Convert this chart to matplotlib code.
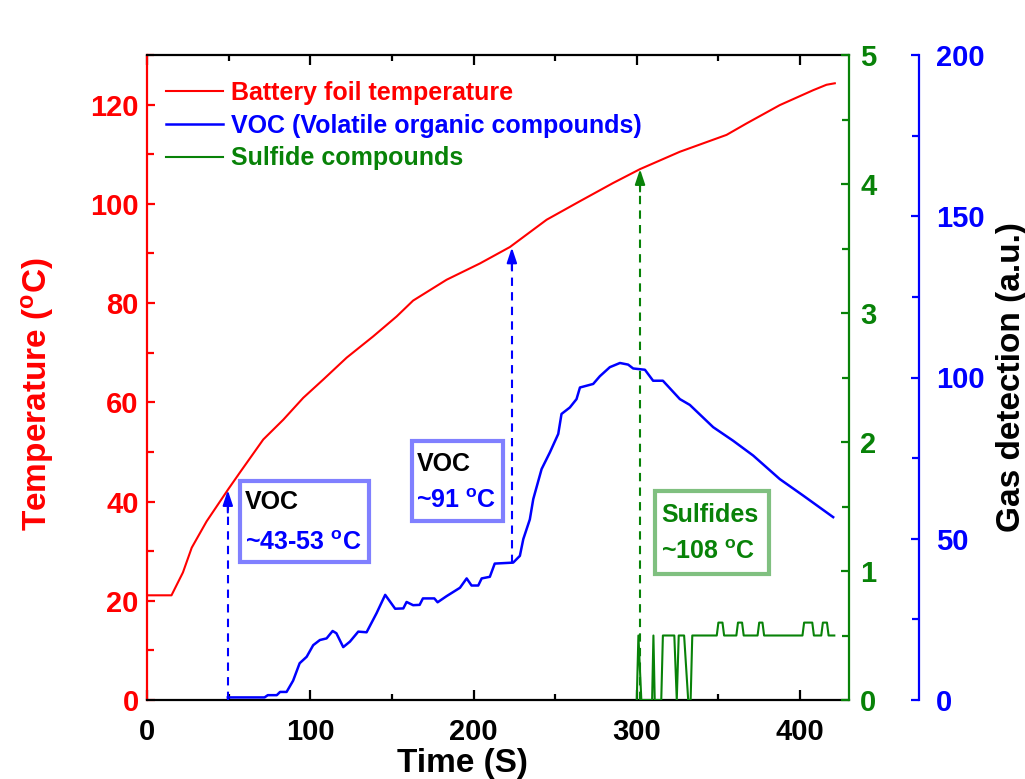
import matplotlib
matplotlib.use("Agg")
import matplotlib.pyplot as plt
from matplotlib.patches import Rectangle
from matplotlib.ticker import MultipleLocator

plt.rcParams['font.family'] = ['Liberation Sans', 'DejaVu Sans']
plt.rcParams['font.weight'] = 'bold'
plt.rcParams['mathtext.fontset'] = 'custom'
plt.rcParams['mathtext.rm'] = 'Liberation Sans:bold'
plt.rcParams['mathtext.bf'] = 'Liberation Sans:bold'
plt.rcParams['mathtext.it'] = 'Liberation Sans:bold'
plt.rcParams['mathtext.default'] = 'rm'

# ---- data ----
temp_t = [0, 15, 22, 27.4, 36.5, 49.8, 57, 71.2, 83.5, 95.7, 108, 122.3, 138.6,
          152.9, 163, 183.5, 204, 222.3, 244.8, 265, 285.5, 302, 326.4, 355,
          367.2, 387.6, 408, 416.2, 421.3]
temp_v = [21.1, 21.1, 25.7, 30.7, 36, 42.5, 45.9, 52.5, 56.5, 60.9, 64.6, 69,
          73.3, 77.3, 80.5, 84.7, 88, 91.3, 96.8, 100.5, 104.2, 107, 110.5,
          113.9, 116.2, 119.9, 122.9, 124, 124.3]

voc_t = [49.5, 72, 74, 79.5, 81.5, 85.5, 89.5, 93.5, 97.8, 101.8, 105.9, 110,
         113.7, 116, 120.2, 124.3, 129.4, 134.5, 140.6, 145.9, 152, 157, 159,
         163, 167, 169, 176, 178, 183.5, 191.7, 195.8, 198.8, 202.9, 205, 210,
         213, 224.3, 228.4, 230.5, 234.5, 236.6, 241.7, 246.8, 251.9, 253.9,
         259, 263.1, 265.2, 273.3, 277.4, 283.5, 289.7, 294.7, 297.8, 305, 310,
         316, 326.4, 332.5, 346.8, 359, 371.3, 387.6, 401.9, 420.3]
voc_v = [0.8, 0.8, 1.5, 1.5, 2.5, 2.5, 6, 11.4, 13.4, 17, 18.6, 19.1, 21.4,
         20.7, 16.4, 18.1, 21.2, 21, 26.9, 32.6, 28.3, 28.4, 30.4, 29.4, 29.5,
         31.5, 31.5, 30.3, 32.2, 34.8, 37.7, 35.5, 35.5, 37.7, 38.2, 42.3, 42.6,
         44.7, 49.9, 56, 62.3, 71.6, 76.8, 82.5, 88.7, 90.7, 93.3, 96.9, 98,
         100.4, 103.2, 104.5, 104, 102.8, 102.4, 99, 99, 93.3, 91.5, 84.6, 80.4,
         75.8, 68.5, 63.4, 56.7]

sulf_t = [300, 301, 302.8, 309.4, 310.2, 311, 315, 316, 323, 324.5, 325.7,
          329, 331.5, 333, 334, 349, 350, 352.5, 353.5, 361, 362, 364.5, 365.5,
          374, 375, 377, 378, 401.5, 402.5, 407.5, 408.5, 413, 414, 416.5,
          417.5, 421]
sulf_v = [0, 0.5, 0, 0, 0.5, 0, 0, 0.5, 0.5, 0, 0.5, 0.5, 0, 0, 0.5, 0.5, 0.6,
          0.6, 0.5, 0.5, 0.6, 0.6, 0.5, 0.5, 0.6, 0.6, 0.5, 0.5, 0.6, 0.6, 0.5,
          0.5, 0.6, 0.6, 0.5, 0.5]

# onset markers: (time, base temperature, tip temperature)
voc1_t, voc1_base, voc1_tip = 49.5, 0, 42.3
voc2_t, voc2_base, voc2_tip = 223.5, 27.6, 91.2
sulf_on_t, sulf_on_base, sulf_on_tip = 302, 0, 107

RED = '#FF0000'
BLUE = '#0000FF'
GREEN = '#088208'

fig = plt.figure(figsize=(10.25, 7.79), dpi=100)
ax = fig.add_axes([147 / 1025, 79 / 779, 702 / 1025, 645 / 779])
ax_s = ax.twinx()
ax_g = ax.twinx()
ax_g.spines['right'].set_position(('axes', 1.10))

l1, = ax.plot(temp_t, temp_v, color=RED, lw=1.5, label='Battery foil temperature')
l2, = ax_g.plot(voc_t, voc_v, color=BLUE, lw=1.8, label='VOC (Volatile organic compounds)')
l3, = ax_s.plot(sulf_t, sulf_v, color=GREEN, lw=1.5, label='Sulfide compounds')

ax.set_xlim(0, 430)
ax.set_ylim(0, 130)
ax_s.set_ylim(0, 5)
ax_g.set_ylim(0, 200)

# spines
for a in (ax, ax_s, ax_g):
    for s in a.spines.values():
        s.set_linewidth(1.6)
ax.spines['left'].set_color(RED)
ax.spines['bottom'].set_color('black')
ax.spines['top'].set_color('black')
ax_s.spines['right'].set_color(GREEN)
ax_g.spines['right'].set_color(BLUE)
for a in (ax_s, ax_g):
    a.spines['left'].set_visible(False)
    a.spines['top'].set_visible(False)
    a.spines['bottom'].set_visible(False)
ax.spines['right'].set_visible(False)

# ticks
ax.xaxis.set_major_locator(MultipleLocator(100))
ax.xaxis.set_minor_locator(MultipleLocator(50))
ax.yaxis.set_major_locator(MultipleLocator(20))
ax.yaxis.set_minor_locator(MultipleLocator(10))
ax_s.yaxis.set_major_locator(MultipleLocator(1))
ax_s.yaxis.set_minor_locator(MultipleLocator(0.5))
ax_g.yaxis.set_major_locator(MultipleLocator(50))
ax_g.yaxis.set_minor_locator(MultipleLocator(25))

ax.tick_params(axis='x', which='both', direction='in', top=True, colors='black',
               labelsize=21, width=1.6)
ax.tick_params(axis='x', which='major', length=7, pad=13)
ax.tick_params(axis='x', which='minor', length=4)
ax.tick_params(axis='y', which='both', direction='in', colors=RED, labelsize=21,
               width=1.6)
ax.tick_params(axis='y', which='major', length=6, pad=6)
ax.tick_params(axis='y', which='minor', length=5)
ax_s.tick_params(axis='y', which='both', direction='in', colors=GREEN,
                 labelsize=21, width=1.6)
ax_s.tick_params(axis='y', which='major', length=6, pad=8)
ax_s.tick_params(axis='y', which='minor', length=5)
ax_g.tick_params(axis='y', which='both', direction='in', colors=BLUE,
                 labelsize=21, width=1.6)
ax_g.tick_params(axis='y', which='major', length=6, pad=12)
ax_g.tick_params(axis='y', which='minor', length=5)

ax.set_xlabel('Time (S)', fontsize=24, fontweight='bold')
ax.xaxis.set_label_coords(0.45, -0.075)
ax.set_ylabel(r'Temperature ($^{o}$C)', fontsize=24, fontweight='bold',
              color=RED)
ax.yaxis.set_label_coords(-0.13, 0.474)
ax_g.set_ylabel('Gas detection (a.u.)', fontsize=24, fontweight='bold',
                color='black')
ax_g.yaxis.set_label_coords(1.209, 0.5)

# legend
leg = ax.legend(handles=[l1, l2, l3], loc='upper left',
                bbox_to_anchor=(0.027, 0.96), frameon=False, fontsize=18,
                handlelength=2.3, handletextpad=0.3, labelspacing=0.35,
                borderaxespad=0, borderpad=0)
for txt, c in zip(leg.get_texts(), (RED, BLUE, GREEN)):
    txt.set_color(c)
    txt.set_fontweight('bold')

# onset arrows (dashed shaft + solid head)
def onset(t, base, tip, color):
    ax.plot([t, t], [base, tip - 3], color=color, lw=1.5, ls=(0, (4, 3)), zorder=3)
    ax.annotate('', xy=(t, tip), xytext=(t, tip - 4.5),
                arrowprops=dict(arrowstyle='-|>,head_length=0.9,head_width=0.3',
                                color=color, lw=1.5, shrinkA=0, shrinkB=0),
                zorder=3)

onset(voc1_t, voc1_base, voc1_tip, BLUE)
onset(voc2_t, voc2_base, voc2_tip, BLUE)
onset(sulf_on_t, sulf_on_base, sulf_on_tip, GREEN)

# annotation boxes
BOXBLUE = '#8080FF'
BOXGREEN = '#80C080'
ax.add_patch(Rectangle((57, 27.9), 79, 16.3, fill=False, ec=BOXBLUE, lw=3,
                       zorder=4))
ax.text(60, 40.0, 'VOC', color='black', fontsize=18, fontweight='bold',
        va='center', ha='left', zorder=5)
ax.text(60, 31.7, r'~43-53 $^{o}$C', color=BLUE, fontsize=18,
        fontweight='bold', va='center', ha='left', zorder=5)

ax.add_patch(Rectangle((162.3, 36.1), 55.5, 16.1, fill=False, ec=BOXBLUE, lw=3,
                       zorder=4))
ax.text(165, 47.6, 'VOC', color='black', fontsize=18, fontweight='bold',
        va='center', ha='left', zorder=5)
ax.text(165, 40.2, r'~91 $^{o}$C', color=BLUE, fontsize=18,
        fontweight='bold', va='center', ha='left', zorder=5)

ax.add_patch(Rectangle((311, 25.4), 70, 16.7, fill=False, ec=BOXGREEN, lw=3,
                       zorder=4))
ax.text(315, 37.2, 'Sulfides', color=GREEN, fontsize=18, fontweight='bold',
        va='center', ha='left', zorder=5)
ax.text(315, 29.8, r'~108 $^{o}$C', color=GREEN, fontsize=18,
        fontweight='bold', va='center', ha='left', zorder=5)

fig.savefig('out.png', dpi=100, facecolor='white')
